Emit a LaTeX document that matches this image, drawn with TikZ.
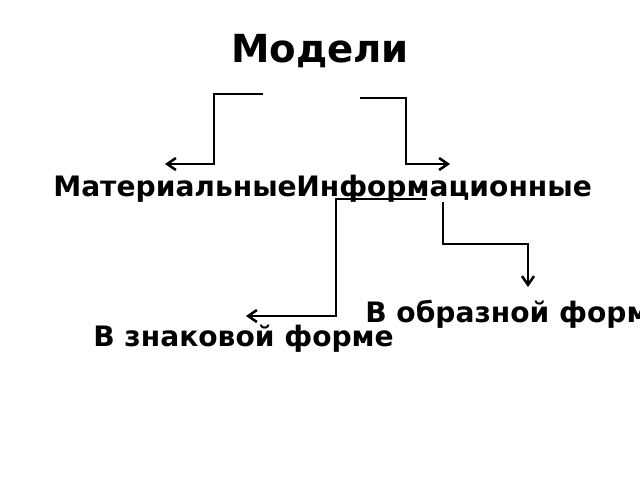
\documentclass[tikz,border=0pt]{standalone}
\usepackage{fontspec}
\setmainfont{DejaVu Sans}
\usetikzlibrary{arrows.meta}
\tikzset{
  conn/.style={line width=1.9pt, -{Straight Barb[length=6.5pt,width=9pt]}},
  title/.style={inner sep=0pt, anchor=base, font=\fontsize{29}{34}\selectfont\bfseries},
  lbl/.style={inner sep=0pt, anchor=base west, font=\fontsize{21.1}{25}\selectfont\bfseries}
}
\begin{document}
\begin{tikzpicture}[x=0.75pt,y=-0.75pt]
\useasboundingbox (0,0) rectangle (640,480);
\clip (0,0) rectangle (640,480);
\fill[white] (0,0) rectangle (640,480);
% texts
\node[title] (models) at (320,62) {Модели};
\node[lbl] (mat) at (53,196) {Материальные};
\node[lbl] (inf) at (296,196) {Информационные};
\node[lbl] (znak) at (93,346) {В знаковой форме};
\node[lbl] (obraz) at (365,322) {В образной форме};
% connector points
\coordinate (a1) at (263,94);
\coordinate (a2) at (165,164);
\coordinate (b1) at (360,98);
\coordinate (b2) at (450,164);
\coordinate (c1) at (426,199);
\coordinate (c2) at (246,316);
\coordinate (d1) at (443,202);
\coordinate (d2) at (528,287);
% connectors
\draw[conn] (a1) -- ++(-49,0) |- (a2);
\draw[conn] (b1) -- ++(46,0) |- (b2);
\draw[conn] (c1) -- ++(-90,0) |- (c2);
\draw[conn] (d1) -- ++(0,42) -| (d2);
\end{tikzpicture}
\end{document}
